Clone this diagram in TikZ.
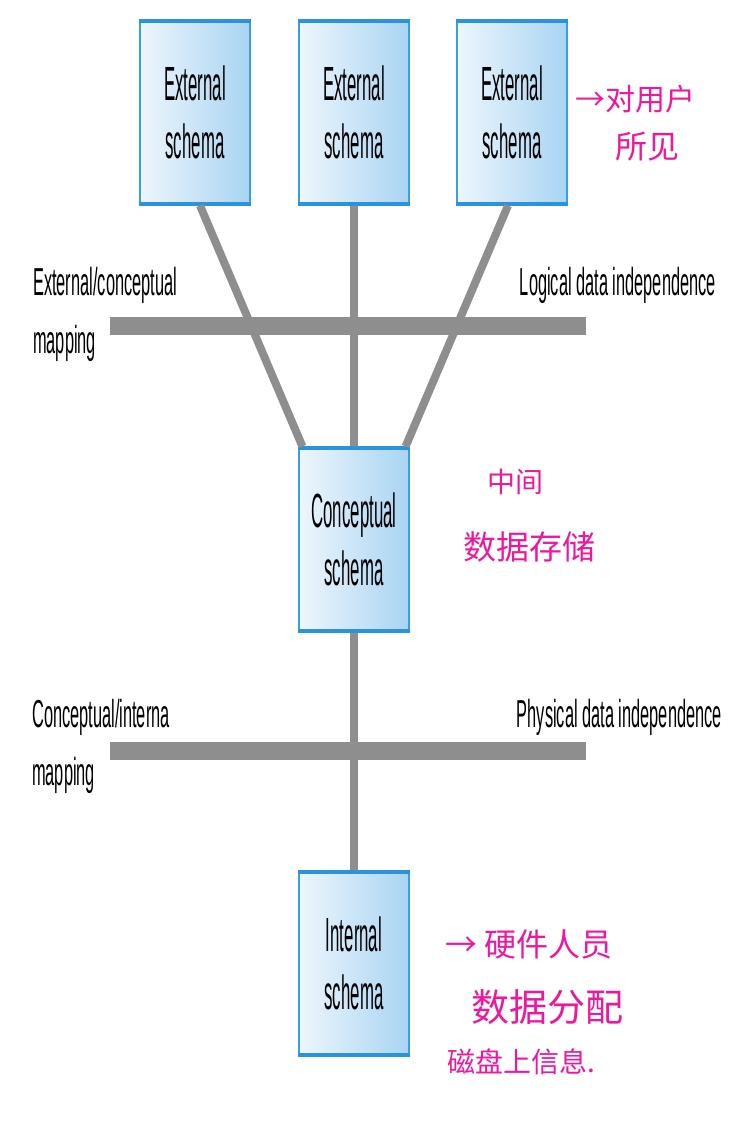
\documentclass[tikz,border=0pt]{standalone}
\usepackage{fontspec}
\setmainfont{Liberation Sans}
\newfontfamily\boxfont{Liberation Sans}[FakeStretch=0.35]
\newfontfamily\labelfont{Liberation Sans}[FakeStretch=0.42]
\newfontfamily\notefont{Noto Sans CJK SC}
\usetikzlibrary{positioning,calc}

\definecolor{boxedge}{HTML}{3A9FE0}
\definecolor{boxrim}{HTML}{2B93DC}
\definecolor{boxleft}{HTML}{EDF6FD}
\definecolor{boxright}{HTML}{A9D4F2}
\definecolor{bargray}{HTML}{8E8E8E}
\definecolor{notepink}{HTML}{F0169E}

\tikzset{
  schema/.style={draw=boxedge, line width=1.2pt, left color=boxleft, right color=boxright,
    minimum width=110pt, minimum height=181pt, inner sep=0pt, align=center,
    font=\boxfont\fontsize{48}{58}\selectfont},
  rim/.style={boxrim, line width=4pt},
  link/.style={bargray, line width=8pt},
  maplabel/.style={inner sep=0pt, align=left, font=\labelfont\fontsize{39}{58}\selectfont},
  note/.style={anchor=west, inner sep=0pt, text=notepink},
}

\begin{document}
\begin{tikzpicture}[x=1pt, y=-1pt]
            \fill[white] (0,0) rectangle (738,1132);
            \useasboundingbox (0,0) rectangle (738,1132);

            % Mapping bars
            \fill[bargray] (110,317) rectangle (586,335);
            \fill[bargray] (110,742) rectangle (586,760);

            % Schema boxes
            \foreach \n/\x in {1/195, 2/354, 3/512} {
                \node[schema] (ext\n) at (\x,112.5) {External\\schema};
            }
            \node[schema] (concept) at (354,539.5) {Conceptual\\schema};
            \node[schema] (internal) at (354,963.5) {Internal\\schema};
            \foreach \b in {ext1, ext2, ext3, concept, internal} {
                \draw[rim] (\b.north west) -- (\b.north east);
                \draw[rim] (\b.south west) -- (\b.south east);
            }

            % Links between levels
            \draw[link] ($(ext1.south)+(5,2)$) -- ($(concept.north west)+(4,-2)$);
            \draw[link] ($(ext2.south)+(0,2)$) -- ($(concept.north)+(0,-2)$);
            \draw[link] ($(ext3.south)+(-4,2)$) -- ($(concept.north east)+(-4,-2)$);
            \draw[link] ($(concept.south)+(0,2)$) -- ($(internal.north)+(0,-2)$);

            % Labels
            \node[maplabel, anchor=base west] (extmap) at (33,353) {External/conceptual\\mapping};
            \node[maplabel, anchor=base east] (logical) at (716,295) {Logical data independence};
            \node[maplabel, anchor=base west] (intmap) at (32,785) {Conceptual/interna\\mapping};
            \node[maplabel, anchor=base east] (physical) at (722,727) {Physical data independence};

            % Notes
            \node[note, font=\notefont\fontsize{30}{36}\selectfont] (userview) at (575,99) {→对用户};
            \node[note, font=\notefont\fontsize{32}{36}\selectfont] (userview2) at (615,147) {所见};
            \node[note, font=\notefont\fontsize{28}{36}\selectfont] (middle) at (487,482) {中间};
            \node[note, font=\notefont\fontsize{33}{36}\selectfont] (storage) at (463,547) {数据存储};
            \node[note, font=\notefont\fontsize{32}{36}\selectfont] (hardware) at (445,944) {→ 硬件人员};
            \node[note, font=\notefont\fontsize{38}{40}\selectfont] (alloc) at (471,1007) {数据分配};
            \node[note, font=\notefont\fontsize{28}{36}\selectfont] (disk) at (447,1062) {磁盘上信息.};
\end{tikzpicture}
\end{document}
